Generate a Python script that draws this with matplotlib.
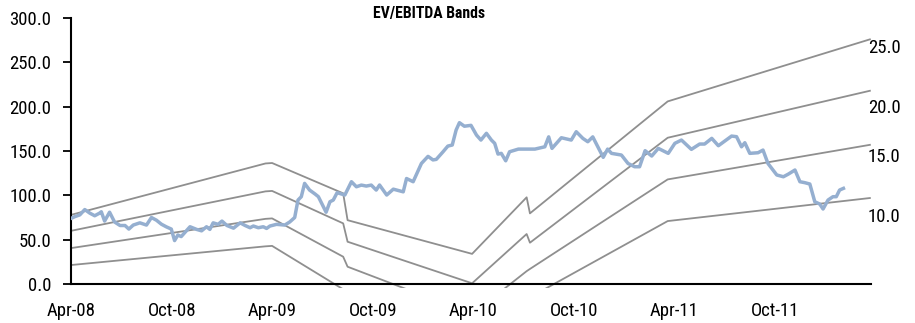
import matplotlib
matplotlib.use("Agg")
import matplotlib.pyplot as plt
import matplotlib.transforms as mtransforms
from matplotlib import font_manager
import pandas as pd

# ---------------- data ----------------
price_dates = [
    "2008-04-01", "2008-04-08", "2008-04-17", "2008-04-26", "2008-05-05", "2008-05-14",
    "2008-05-23", "2008-05-26", "2008-06-01", "2008-06-10", "2008-06-19", "2008-06-29",
    "2008-07-08", "2008-07-15", "2008-07-23", "2008-08-04", "2008-08-16", "2008-08-25",
    "2008-09-03", "2008-09-12", "2008-09-21", "2008-09-30", "2008-10-06", "2008-10-12",
    "2008-10-18", "2008-11-03", "2008-11-15", "2008-11-24", "2008-12-03", "2008-12-09",
    "2008-12-15", "2008-12-24", "2008-12-31", "2009-01-09", "2009-01-21", "2009-02-02",
    "2009-02-11", "2009-02-20", "2009-02-26", "2009-03-07", "2009-03-16", "2009-03-22",
    "2009-03-28", "2009-04-09", "2009-04-24", "2009-05-03", "2009-05-12", "2009-05-18",
    "2009-05-24", "2009-05-30", "2009-06-08", "2009-06-18", "2009-06-24", "2009-06-30",
    "2009-07-08", "2009-07-15", "2009-07-21", "2009-07-28", "2009-08-05", "2009-08-11",
    "2009-08-23", "2009-09-01", "2009-09-10", "2009-09-19", "2009-09-28", "2009-10-07",
    "2009-10-13", "2009-10-26", "2009-11-07", "2009-11-25", "2009-12-01", "2009-12-13",
    "2009-12-28", "2010-01-09", "2010-01-18", "2010-01-24", "2010-02-05", "2010-02-14",
    "2010-02-22", "2010-03-01", "2010-03-07", "2010-03-16", "2010-03-28", "2010-04-07",
    "2010-04-15", "2010-04-25", "2010-05-04", "2010-05-10", "2010-05-16", "2010-05-22",
    "2010-05-30", "2010-06-06", "2010-06-22", "2010-07-22", "2010-08-09", "2010-08-16",
    "2010-08-22", "2010-09-08", "2010-09-26", "2010-10-05", "2010-10-17", "2010-10-26",
    "2010-11-04", "2010-11-23", "2010-12-01", "2010-12-08", "2010-12-26", "2011-01-07",
    "2011-01-19", "2011-01-28", "2011-02-07", "2011-02-19", "2011-03-03", "2011-03-21",
    "2011-04-02", "2011-04-14", "2011-05-02", "2011-05-17", "2011-05-26", "2011-06-08",
    "2011-06-20", "2011-07-14", "2011-07-23", "2011-08-01", "2011-08-07", "2011-08-16",
    "2011-08-31", "2011-09-09", "2011-09-18", "2011-10-04", "2011-10-16", "2011-10-25",
    "2011-11-06", "2011-11-15", "2011-11-24", "2011-12-03", "2011-12-12", "2011-12-21",
    "2011-12-27", "2012-01-05", "2012-01-14", "2012-01-20", "2012-01-26", "2012-02-02",
]
price_values = [
    74.0, 76.0, 78.0, 84.0, 80.0, 77.0,
    80.0, 81.5, 71.0, 81.0, 70.0, 66.0,
    66.0, 62.0, 66.5, 69.0, 66.5, 75.0,
    72.0, 67.5, 64.5, 62.0, 49.0, 55.3,
    53.5, 64.6, 61.6, 60.0, 64.6, 61.6,
    69.0, 67.3, 71.0, 66.0, 63.0, 69.0,
    66.0, 63.5, 65.4, 63.5, 64.6, 62.7,
    65.4, 67.3, 66.5, 70.0, 75.0, 94.7,
    98.5, 113.5, 106.0, 101.5, 98.5, 91.0,
    81.0, 92.8, 94.7, 103.0, 101.5, 100.4,
    115.4, 109.7, 111.6, 110.5, 111.6, 106.0,
    111.7, 100.4, 107.0, 104.0, 119.0, 115.4,
    136.0, 144.0, 140.0, 140.6, 149.0, 155.6,
    156.8, 173.7, 182.0, 178.0, 179.0, 168.0,
    162.4, 170.0, 162.4, 158.7, 146.6, 147.4,
    139.0, 149.2, 152.2, 152.2, 154.8, 166.0,
    153.0, 165.0, 162.4, 171.8, 164.3, 160.5,
    166.0, 142.9, 152.2, 147.4, 145.5, 136.0,
    132.3, 132.3, 150.4, 144.4, 153.0, 147.4,
    158.7, 162.4, 151.9, 157.9, 157.9, 164.3,
    156.0, 166.9, 166.2, 154.8, 159.4, 147.4,
    148.1, 151.1, 136.0, 123.0, 121.0, 124.0,
    128.6, 115.4, 114.3, 112.8, 92.8, 90.2,
    84.6, 94.7, 98.5, 98.5, 106.0, 107.9,
]

band_dates = [
    "2008-04-01", "2009-03-20", "2009-04-01", "2009-08-08", "2009-08-16",
    "2010-03-30", "2010-07-07", "2010-07-13", "2011-03-20", "2012-03-21",
]
band_10x = [21.4, 42.5, 43.0, -6.0, -14.0, -67.0, -17.0, -15.0, 71.0, 97.0]
band_15x = [40.5, 73.5, 74.0, 30.8, 19.5, -34.0, 14.5, 17.0, 118.0, 157.0]
band_20x = [60.0, 104.5, 105.0, 68.4, 47.7, 0.8, 56.4, 46.6, 165.0, 218.0]
band_25x = [78.0, 136.0, 136.5, 102.3, 72.0, 34.0, 97.8, 79.7, 206.0, 276.0]

multiple_labels = ["10.0", "15.0", "20.0", "25.0"]
y_ticks = [0, 50, 100, 150, 200, 250, 300]
x_tick_dates = ["2008-04-01", "2008-10-01", "2009-04-01", "2009-10-01",
                "2010-04-01", "2010-10-01", "2011-04-01", "2011-10-01"]

# ---------------- layout ----------------
label_y_pos = [75.5, 143.0, 198.5, 266.0]

installed = {f.name for f in font_manager.fontManager.ttflist}
narrow = None
for cand in ["Liberation Sans Narrow", "Arial Narrow", "Roboto Condensed",
             "Open Sans Condensed", "Nimbus Sans Narrow"]:
    if cand in installed:
        narrow = cand
        break
if narrow:
    plt.rcParams['font.family'] = [narrow, 'Liberation Sans', 'DejaVu Sans']
    fs, tfs = 13.5, 11.3
else:
    plt.rcParams['font.family'] = ['Liberation Sans', 'DejaVu Sans']
    fs, tfs = 11.5, 10.3

fig = plt.figure(figsize=(9.15, 3.23), dpi=100)
ax = fig.add_axes([0.0776, 0.107, 0.8743, 0.837])

bd = pd.to_datetime(band_dates)
band_color = "#8f8f8f"
for band in (band_10x, band_15x, band_20x, band_25x):
    ax.plot(bd, band, color=band_color, lw=1.3, solid_joinstyle="round", zorder=2)

ax.plot(pd.to_datetime(price_dates), price_values, color="#95afd0", lw=2.5,
        solid_joinstyle="round", zorder=3)

ax.set_xlim(pd.Timestamp("2008-04-01"), pd.Timestamp("2012-03-23"))
ax.set_ylim(-5, 300)

ax.set_yticks(y_ticks)
ax.set_yticklabels([f"{v:.1f}" for v in y_ticks])
xt = pd.to_datetime(x_tick_dates)
ax.set_xticks(xt)
ax.set_xticklabels([d.strftime("%b-%y") for d in xt])

for s in ("top", "right"):
    ax.spines[s].set_visible(False)
ax.spines["bottom"].set_position(("data", 0))
ax.spines["left"].set_bounds(0, 300)
for s in ("bottom", "left"):
    ax.spines[s].set_linewidth(1.5)
    ax.spines[s].set_color("black")

ax.tick_params(axis="y", direction="out", length=6, width=1.3, pad=8,
               labelsize=fs, colors="black")
ax.tick_params(axis="x", length=0, pad=13, labelsize=fs, colors="black")

trans = mtransforms.blended_transform_factory(ax.transAxes, ax.transData)
for lab, yp in zip(multiple_labels, label_y_pos):
    ax.text(0.996, yp, lab, transform=trans, ha="left", va="center",
            fontsize=fs, color="black", clip_on=False)

fig.text(429 / 915, 1 - 13.5 / 323, "EV/EBITDA Bands", ha="center", va="center",
         fontsize=tfs, fontweight="bold", color="black")

fig.savefig("out.png", dpi=100)
